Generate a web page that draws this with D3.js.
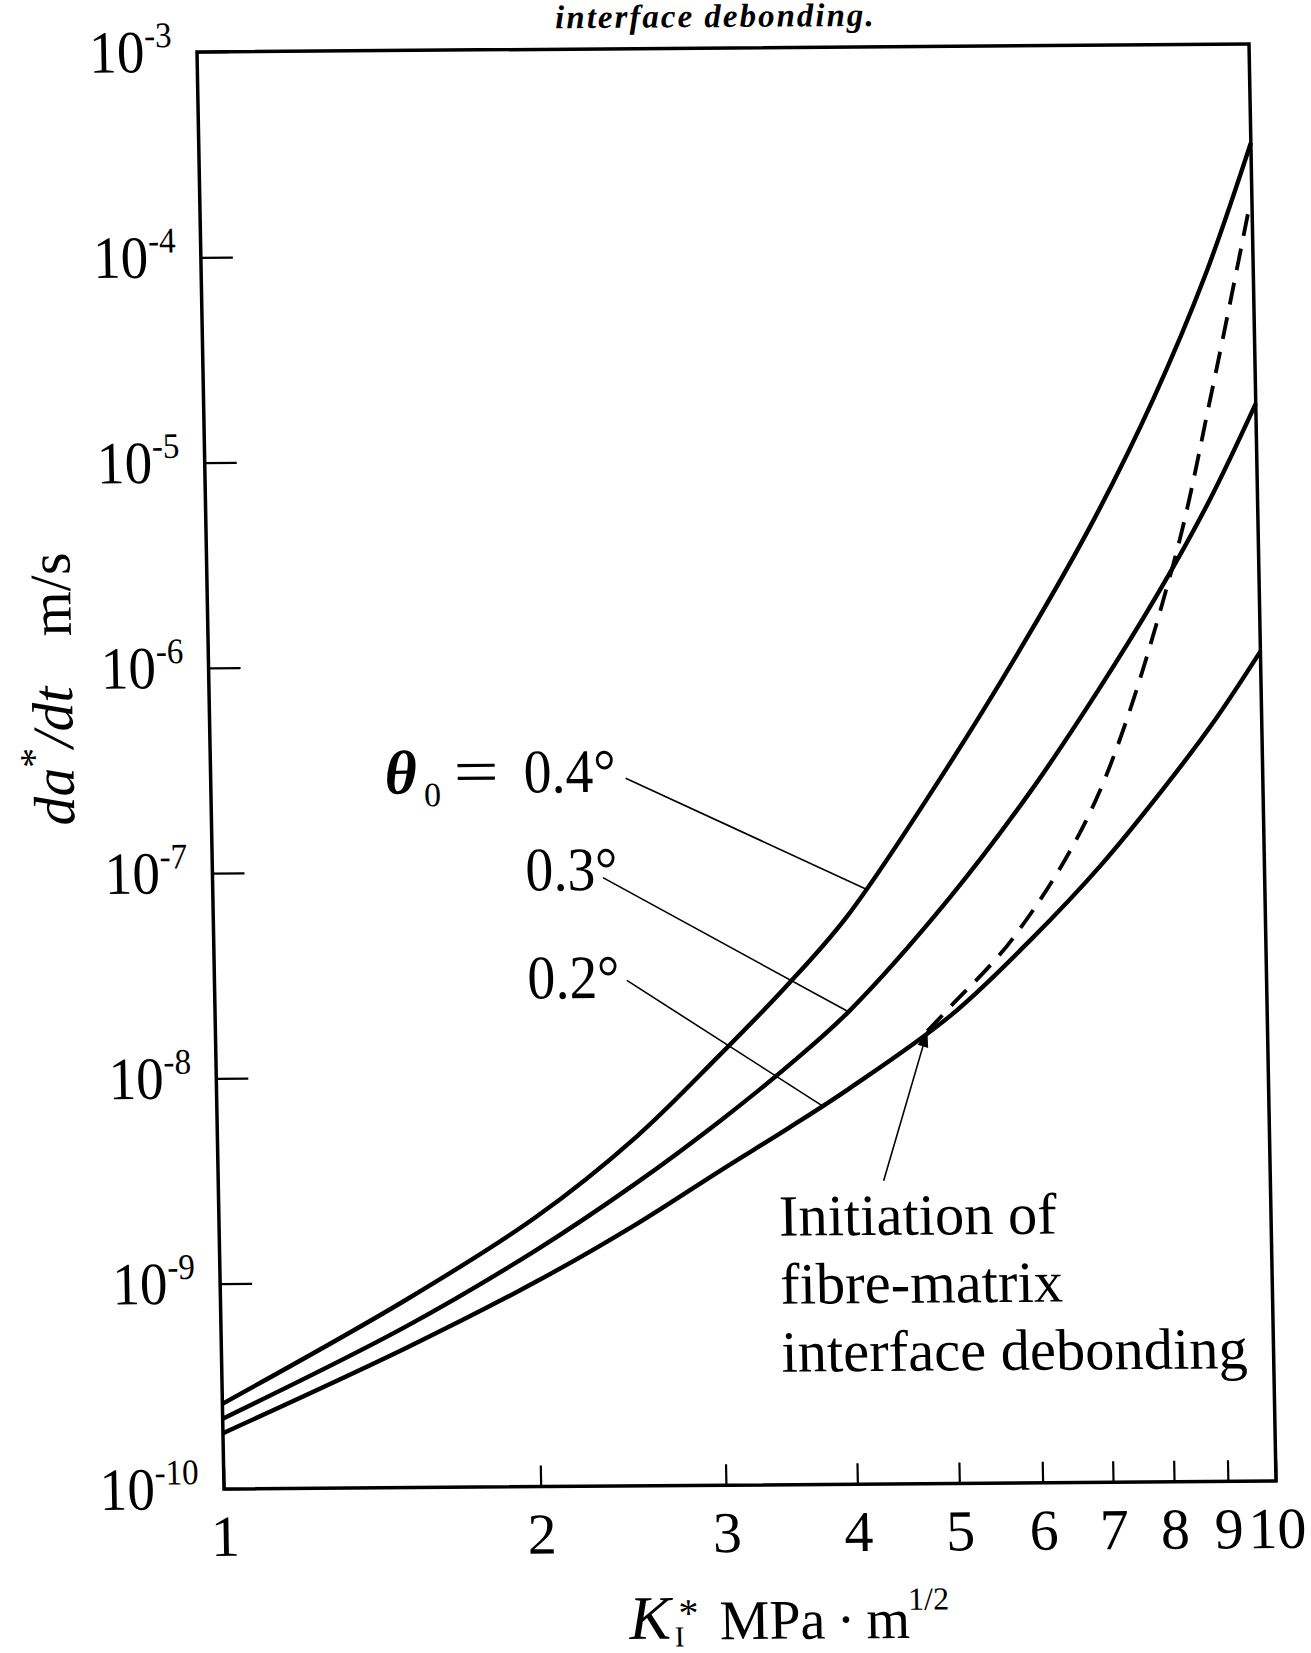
<!DOCTYPE html>
<html><head><meta charset="utf-8">
<script src="https://cdn.jsdelivr.net/npm/d3@7"></script>
<style>
body{margin:0;background:#fff}
text{font-family:"Liberation Serif","Times New Roman",serif;fill:#000}
</style>
</head><body>
<svg id="chart" width="1311" height="1653"></svg>
<script>
// ---------- data ----------
const kGrid   = [1, 1.5, 2, 2.5, 3, 3.5, 4, 5, 6, 7, 8, 9, 10];           // K_I* (MPa·m^1/2)
const rate04  = [2.6e-10, 8.2e-10, 2.05e-9, 5.0e-9, 1.22e-8, 2.7e-8, 5.8e-8, 3.0e-7, 1.3e-6, 5.0e-6, 1.9e-5, 7.5e-5, 3.3e-4];
const rate03  = [2.2e-10, 6.1e-10, 1.42e-9, 3.0e-9, 5.9e-9, 1.1e-8, 2.0e-8, 7.0e-8, 2.3e-7, 7.2e-7, 2.1e-6, 6.0e-6, 1.77e-5];
const rate02  = [1.87e-10, 4.8e-10, 1.0e-9, 1.9e-9, 3.4e-9, 5.5e-9, 8.5e-9, 1.9e-8, 4.5e-8, 1.02e-7, 2.3e-7, 5.0e-7, 1.1e-6];
const debondK    = [4.75, 5.0, 5.75, 6.9, 8.27, 9.1, 9.95];
const debondRate = [1.6e-8, 2.1e-8, 4.5e-8, 2.0e-7, 2.8e-6, 2.1e-5, 1.65e-4];
const seriesLabels = ["0.4°", "0.3°", "0.2°"];
// leader lines: [K, rate] start (label side) -> end (on curve)
const leaderStart = [[2.48, 2.8e-7], [2.35, 9.2e-8], [2.466, 2.9e-8]];
const leaderEnd   = [[4.18, 7.9e-8], [4.0, 2.0e-8], [3.76, 7.0e-9]];
const arrowTail = [4.29, 3.0e-9];
const arrowHead = [4.75, 1.6e-8];
const xTickValues = [1, 2, 3, 4, 5, 6, 7, 8, 9, 10];
const yTickValues = [1e-10, 1e-9, 1e-8, 1e-7, 1e-6, 1e-5, 1e-4, 1e-3];
const noteLines = ["Initiation of", "fibre-matrix", "interface debonding"];

// ---------- layout ----------
const W = 1052, H = 1437;
const shearX = 27 / 1437, shearY = -8 / 1052;
const svg = d3.select("#chart");
svg.append("rect").attr("width", 1311).attr("height", 1653).attr("fill", "#fff");
const g = svg.append("g")
  .attr("transform", `matrix(1,${shearY},${shearX},1,197,52)`);

const x = d3.scaleLog().domain([1, 10]).range([0, W]);
const y = d3.scaleLog().domain([1e-10, 1e-3]).range([H, 0]);

// ticks via axes
const xAxis = d3.axisBottom(x).tickValues(xTickValues).tickSizeInner(-21).tickSizeOuter(0)
  .tickPadding(27).tickFormat(d3.format("d"));
const gx = g.append("g").attr("transform", `translate(0,${H})`).call(xAxis);
gx.select(".domain").remove();
gx.selectAll(".tick line").attr("stroke", "#000").attr("stroke-width", 2.2);
gx.selectAll(".tick text").attr("font-size", 58).attr("dy", null)
  .attr("y", 67).attr("font-family", "'Liberation Serif',serif").attr("fill", "#000");

const yAxis = d3.axisLeft(y).tickValues(yTickValues).tickSizeInner(-32).tickSizeOuter(0).tickFormat("");
const gy = g.append("g").call(yAxis);
gy.select(".domain").remove();
gy.selectAll(".tick line").attr("stroke", "#000").attr("stroke-width", 2.2);

// y tick labels 10^n (slightly condensed like the scan)
const yl = g.append("g").selectAll("text").data(yTickValues).join("text")
  .attr("transform", d => `translate(-25,${y(d) + 20}) scale(0.92,1)`)
  .attr("text-anchor", "end").attr("font-size", 60);
yl.append("tspan").text("10");
yl.append("tspan").attr("font-size", 36).attr("dy", -25)
  .text(d => "-" + Math.abs(Math.round(Math.log10(d))));

// frame
g.append("rect").attr("x", 0).attr("y", 0).attr("width", W).attr("height", H)
  .attr("fill", "none").attr("stroke", "#000").attr("stroke-width", 3.5);

// curves
const line = d3.line().x(d => x(d[0])).y(d => y(d[1])).curve(d3.curveCatmullRom.alpha(0.5));
[rate04, rate03, rate02].forEach(r => {
  g.append("path").datum(kGrid.map((k, i) => [k, r[i]])).attr("d", line)
    .attr("fill", "none").attr("stroke", "#000").attr("stroke-width", 4.4).attr("stroke-linejoin", "round");
});
g.append("path").datum(debondK.map((k, i) => [k, debondRate[i]])).attr("d", line)
  .attr("fill", "none").attr("stroke", "#000").attr("stroke-width", 3.8)
  .attr("stroke-dasharray", "22,13");

// leader lines
leaderStart.forEach((s, i) => {
  g.append("line").attr("x1", x(s[0])).attr("y1", y(s[1]))
    .attr("x2", x(leaderEnd[i][0])).attr("y2", y(leaderEnd[i][1]))
    .attr("stroke", "#000").attr("stroke-width", 1.6);
});
// arrow
const ax1 = x(arrowTail[0]), ay1 = y(arrowTail[1]), ax2 = x(arrowHead[0]), ay2 = y(arrowHead[1]);
g.append("line").attr("x1", ax1).attr("y1", ay1).attr("x2", ax2).attr("y2", ay2)
  .attr("stroke", "#000").attr("stroke-width", 1.6);
const ang = Math.atan2(ay2 - ay1, ax2 - ax1), L = 16, Wd = 5.5;
const bx = ax2 - L * Math.cos(ang), by = ay2 - L * Math.sin(ang);
g.append("path").attr("d",
  `M${ax2},${ay2}L${bx + Wd * Math.sin(ang)},${by - Wd * Math.cos(ang)}L${bx - Wd * Math.sin(ang)},${by + Wd * Math.cos(ang)}Z`)
  .attr("fill", "#000");

// series labels
g.append("text").attr("x", 174).attr("y", 743).attr("font-size", 62)
  .attr("font-style", "italic").attr("font-weight", "bold").text("θ");
g.append("text").attr("x", 213).attr("y", 756).attr("font-size", 34).text("0");
g.append("text").attr("font-size", 64)
  .attr("transform", "translate(243,743) scale(1.25,1)").text("=");
const labelY = [743, 841, 949];
seriesLabels.forEach((t, i) => {
  g.append("text").attr("transform", `translate(313,${labelY[i]}) scale(0.9,1)`)
    .attr("font-size", 62).text(t);
});

// note
noteLines.forEach((t, i) => {
  g.append("text").attr("x", 560).attr("y", 1188 + i * 68).attr("font-size", 58.5).text(t);
});

// top caption fragment
g.append("text").attr("x", 519).attr("y", -21).attr("text-anchor", "middle")
  .attr("font-size", 33).attr("letter-spacing", 2).attr("font-style", "italic").attr("font-weight", "bold")
  .text("interface debonding.");

// x axis title
g.append("text").attr("x", 403).attr("y", 1590).attr("font-size", 62).attr("font-style", "italic").text("K");
g.append("text").attr("x", 452).attr("y", 1578).attr("font-size", 40).text("*");
g.append("text").attr("x", 448).attr("y", 1598).attr("font-size", 29).text("I");
g.append("text").attr("x", 493).attr("y", 1591).attr("font-size", 56).text("MPa\u2009·\u2009m");
g.append("text").attr("x", 682).attr("y", 1563).attr("font-size", 32).text("1/2");

// y axis title
const yt = g.append("text").attr("transform", "translate(-137,636) rotate(-90)")
  .attr("text-anchor", "middle").attr("font-size", 58);
yt.append("tspan").attr("font-style", "italic").text("da");
yt.append("tspan").attr("font-size", 40).attr("dy", -26).text("*");
yt.append("tspan").attr("font-style", "italic").attr("dy", 26).text("/dt");
yt.append("tspan").attr("dx", 50).text("m/s");
</script>
</body></html>
